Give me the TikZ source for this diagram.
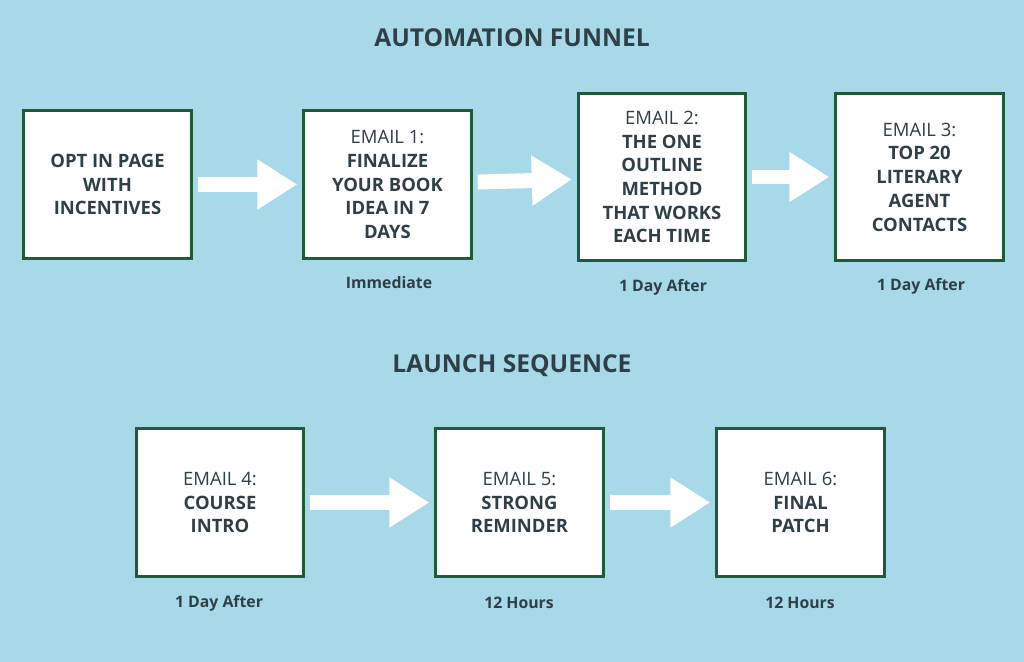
\documentclass[tikz,border=0pt]{standalone}
\usepackage{fontspec}
\setmainfont{Open Sans}
\usetikzlibrary{arrows.meta}
\usetikzlibrary{positioning}
\definecolor{bgblue}{HTML}{A7D9E8}
\definecolor{boxgreen}{HTML}{1E5B3A}
\definecolor{ink}{HTML}{2F3F47}
\begin{document}
\begin{tikzpicture}[
  x=0.02cm, y=-0.02cm,
  stage/.style={
    rectangle,
    draw=boxgreen,
    line width=0.6mm,
    fill=white,
    text=ink,
    align=center,
    font=\fontsize{10.5}{13.5}\selectfont,
    minimum width=3.35cm,
    minimum height=2.95cm,
    inner sep=1mm},
  big/.style={minimum height=3.35cm},
  wait/.style={text=ink, font=\fontsize{9}{11}\selectfont\bfseries},
  head/.style={text=ink, font=\fontsize{14}{17}\selectfont\bfseries},
  flow/.style={
    -{Triangle[length=0.8cm,width=0.95cm]},
    draw=white, line width=0.3cm, shorten <=1mm, shorten >=1mm},
]

  \fill[bgblue] (0,0) rectangle (1024,662);

  % automation funnel
  \node[head] (t_auto) at (512,38) {AUTOMATION FUNNEL};

  \node[stage] (optin) at (107.5,184.5) {\bfseries OPT IN PAGE\\\bfseries WITH\\\bfseries INCENTIVES};
  \node[stage] (mail_1) at (387.5,184.5)
      {EMAIL 1:\\\bfseries FINALIZE\\\bfseries YOUR BOOK\\\bfseries IDEA IN 7\\\bfseries DAYS};
  \node[stage,big] (mail_2) at (662,177)
      {EMAIL 2:\\\bfseries THE ONE\\\bfseries OUTLINE\\\bfseries METHOD\\\bfseries THAT WORKS\\\bfseries EACH TIME};
  \node[stage,big] (mail_3) at (919.5,177)
      {EMAIL 3:\\\bfseries TOP 20\\\bfseries LITERARY\\\bfseries AGENT\\\bfseries CONTACTS};

  \node[wait] (w_1) at (389,283) {Immediate};
  \node[wait] (w_2) at (663,287) {1 Day After};
  \node[wait] (w_3) at (921,286) {1 Day After};

  \draw[flow] (optin) -- (mail_1);
  \draw[flow] (mail_1) -- (mail_2);
  \draw[flow] (mail_2) -- (mail_3);

  % launch sequence
  \node[head] (t_launch) at (512,366) {LAUNCH SEQUENCE};

  \node[stage] (mail_4) at (220,502.5) {EMAIL 4:\\\bfseries COURSE\\\bfseries INTRO};
  \node[stage] (mail_5) at (519.5,502.5) {EMAIL 5:\\\bfseries STRONG\\\bfseries REMINDER};
  \node[stage] (mail_6) at (800.5,502.5) {EMAIL 6:\\\bfseries FINAL\\\bfseries PATCH};

  \node[wait] (w_4) at (219,603) {1 Day After};
  \node[wait] (w_5) at (519,603) {12 Hours};
  \node[wait] (w_6) at (800,603) {12 Hours};

  \draw[flow] (mail_4) -- (mail_5);
  \draw[flow] (mail_5) -- (mail_6);

\end{tikzpicture}
\end{document}
